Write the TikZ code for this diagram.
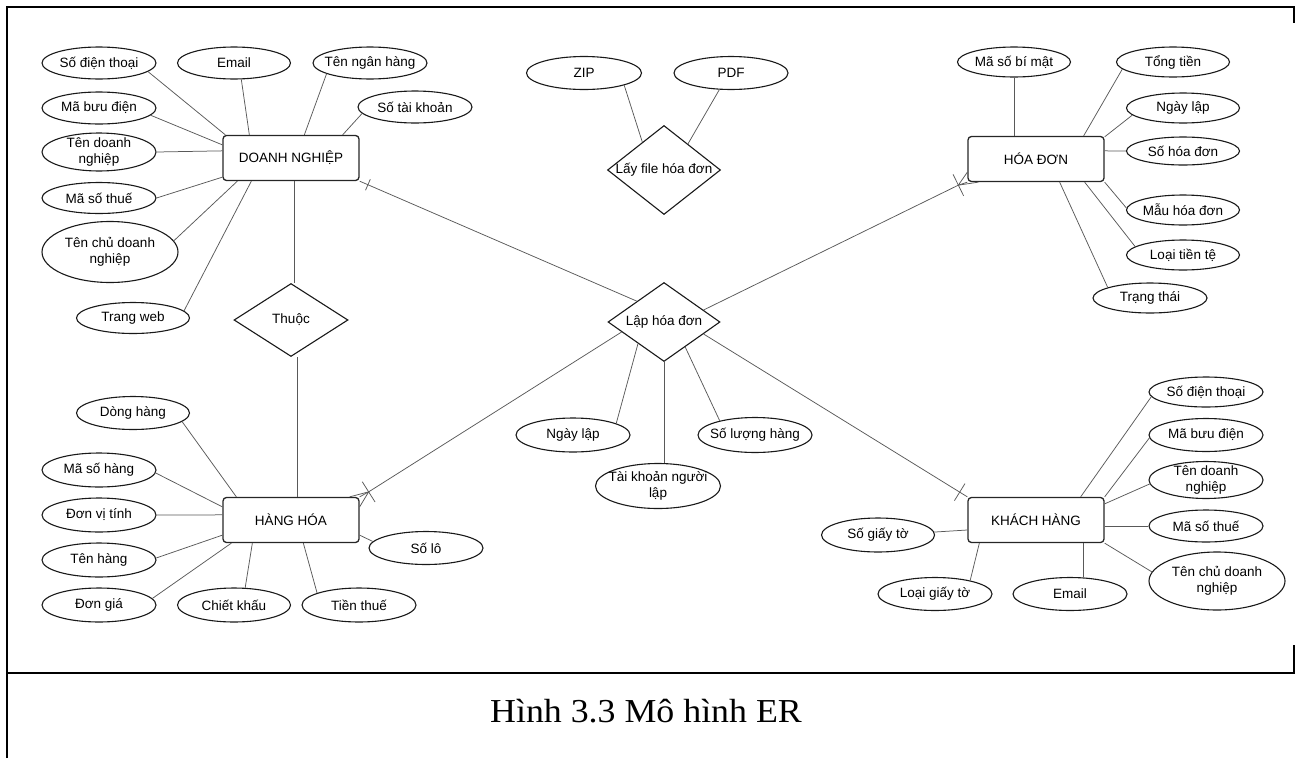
\documentclass[tikz,border=0pt]{standalone}
\usepackage{fontspec}
\usetikzlibrary{shapes.geometric,calc}
\newfontfamily\diagfont{Liberation Sans}
\newfontfamily\capfont{Liberation Serif}
\begin{document}
\begin{tikzpicture}[x=1pt,y=-1pt,
  txt/.style={font=\diagfont\fontsize{13.5}{16.5}\selectfont, align=center, inner sep=0pt},
  attr/.style 2 args={ellipse, draw=black!90, line width=1.1pt, inner sep=0pt,
    minimum width=#1, minimum height=#2},
  ent/.style={rectangle, draw=black!85, line width=1.3pt, rounded corners=3.5pt,
    minimum width=136, minimum height=45, txt},
  rel/.style 2 args={diamond, draw=black!90, line width=1.1pt, inner sep=0pt,
    minimum width=#1, minimum height=#2},
  conn/.style={draw=black!65, line width=0.75pt},
  frame/.style={line width=1.4pt}]
\useasboundingbox (0,0) rectangle (1301,758);

% outer frame and caption row
\draw[frame] (7,758) -- (7,7) -- (1294,7) -- (1294,23);
\draw[frame] (1294,645) -- (1294,673) -- (7,673);
\node[font=\capfont\fontsize{33.5}{40}\selectfont, anchor=base, inner sep=0pt] (cap)
  at (646,722) {\scalebox{1.07}[1]{Hình 3.3 Mô hình ER}};

% ---------- DOANH NGHIỆP ----------
\node[ent] (dn) at (291,158) {DOANH NGHIỆP};
\node[attr={114}{32}, label={[txt]center:Số điện thoại}] (dnSdt) at (99,63) {};
\node[attr={113}{32}, label={[txt]center:Email}] (dnEm) at (234,63) {};
\node[attr={114}{32}, label={[txt]center:Tên ngân hàng}] (dnNh) at (370,63) {};
\node[attr={114}{32}, label={[txt]center:Số tài khoản}] (dnTk) at (415,107) {};
\node[attr={114}{32}, label={[txt]center:Mã bưu điện}] (dnMbd) at (99,108) {};
\node[attr={114}{38}, label={[txt]center:{Tên doanh\\nghiệp}}] (dnTdn) at (99,152) {};
\node[attr={114}{31}, label={[txt]center:Mã số thuế}] (dnMst) at (99,198) {};
\node[attr={136}{61}, label={[txt]center:{Tên chủ doanh\\nghiệp}}] (dnTc) at (110,252) {};
\node[attr={113}{31}, label={[txt]center:Trang web}] (dnWeb) at (133,318) {};

\draw[conn] (dnSdt.-10) -- ($(dn.north west)+(3,0)$);
\draw[conn] (dnEm.-66) -- ($(dn.north west)+(27,0)$);
\draw[conn] (dnNh.194) -- ($(dn.north west)+(82,0)$);
\draw[conn] (dnTk.187) -- ($(dn.north east)+(-17,0)$);
\draw[conn] (dnMbd.-8) -- ($(dn.north west)+(0,10)$);
\draw[conn] (dnTdn.0) -- ($(dn.north west)+(0,16)$);
\draw[conn] (dnMst.0) -- ($(dn.south west)+(0,-4)$);
\draw[conn] (dnTc.10) -- ($(dn.south west)+(15,0)$);
\draw[conn] (dnWeb.8) -- ($(dn.south west)+(29,0)$);

% ---------- Thuộc ----------
\node[rel={114}{73}, label={[txt]center:Thuộc}] (th) at (291,320) {};

% ---------- HÀNG HÓA ----------
\node[ent] (hh) at (291,520) {HÀNG HÓA};
\node[attr={113}{33}, label={[txt]center:Dòng hàng}] (hhDh) at (133,413) {};
\node[attr={114}{34}, label={[txt]center:Mã số hàng}] (hhMsh) at (99,470) {};
\node[attr={114}{34}, label={[txt]center:Đơn vị tính}] (hhDvt) at (99,515) {};
\node[attr={114}{34}, label={[txt]center:Tên hàng}] (hhTh) at (99,560) {};
\node[attr={114}{34}, label={[txt]center:Đơn giá}] (hhDg) at (99,605) {};
\node[attr={113}{34}, label={[txt]center:Chiết khấu}] (hhCk) at (234,605) {};
\node[attr={114}{34}, label={[txt]center:Tiền thuế}] (hhTt) at (359,605) {};
\node[attr={114}{33}, label={[txt]center:Số lô}] (hhSl) at (426,548) {};

\draw[conn] (hhDh.-10) -- ($(hh.north west)+(14,0)$);
\draw[conn] (hhMsh.-3) -- ($(hh.north west)+(0,10)$);
\draw[conn] (hhDvt.0) -- ($(hh.north west)+(0,18)$);
\draw[conn] (hhTh.2) -- ($(hh.south west)+(0,-8)$);
\draw[conn] (hhDg.7) -- ($(hh.south west)+(9,0)$);
\draw[conn] (hhCk.57) -- ($(hh.south west)+(30,0)$);
\draw[conn] (hhTt.164) -- ($(hh.south west)+(81,0)$);
\draw[conn] (hhSl.173) -- ($(hh.south east)+(0,-8)$);

\draw[conn] ($(dn.south)+(3,0)$) -- ($(th.north)+(3,0)$);
\draw[conn] ($(th.south)+(6,0)$) -- ($(hh.north)+(6,0)$);

% ---------- Lấy file hóa đơn ----------
\node[rel={113}{89}, label={[txt]center:Lấy file hóa đơn}] (lf) at (664,170) {};
\node[attr={115}{33}, label={[txt]center:ZIP}] (lfZip) at (584,73) {};
\node[attr={114}{33}, label={[txt]center:PDF}] (lfPdf) at (731,73) {};
\draw[conn] (lfZip.-17) -- ($(lf.west)!0.62!(lf.north)$);
\draw[conn] (lfPdf.-125) -- ($(lf.north)!0.42!(lf.east)$);

% ---------- HÓA ĐƠN ----------
\node[ent] (hd) at (1036,159) {HÓA ĐƠN};
\node[attr={113}{30}, label={[txt]center:Mã số bí mật}] (hdMs) at (1014,62) {};
\node[attr={113}{30}, label={[txt]center:Tổng tiền}] (hdTt) at (1173,62) {};
\node[attr={113}{30}, label={[txt]center:Ngày lập}] (hdNl) at (1183,108) {};
\node[attr={113}{28}, label={[txt]center:Số hóa đơn}] (hdShd) at (1183,151) {};
\node[attr={113}{30}, label={[txt]center:Mẫu hóa đơn}] (hdMau) at (1183,210) {};
\node[attr={113}{30}, label={[txt]center:Loại tiền tệ}] (hdLtt) at (1183,255) {};
\node[attr={114}{30}, label={[txt]center:Trạng thái}] (hdTth) at (1150,298) {};

\draw[conn] (hdMs.south) -- (hdMs.south |- hd.north);
\draw[conn] (hdTt.188) -- ($(hd.north east)+(-21,0)$);
\draw[conn] (hdNl.188) -- ($(hd.north east)+(0,1)$);
\draw[conn] (hdShd.180) -- ($(hd.north east)+(0,15)$);
\draw[conn] (hdMau.178) -- (hd.south east);
\draw[conn] (hdLtt.170) -- ($(hd.south east)+(-20,0)$);
\draw[conn] (hdTth.166) -- ($(hd.south east)+(-45,0)$);

% ---------- KHÁCH HÀNG ----------
\node[ent] (kh) at (1036,520) {KHÁCH HÀNG};
\node[attr={114}{30}, label={[txt]center:Số điện thoại}] (khSdt) at (1206,392) {};
\node[attr={114}{33}, label={[txt]center:Mã bưu điện}] (khMbd) at (1206,435) {};
\node[attr={114}{37}, label={[txt]center:{Tên doanh\\nghiệp}}] (khTdn) at (1206,480) {};
\node[attr={114}{32}, label={[txt]center:Mã số thuế}] (khMst) at (1206,526) {};
\node[attr={136}{58}, label={[txt]center:{Tên chủ doanh\\nghiệp}}] (khTc) at (1217,581) {};
\node[attr={113}{34}, label={[txt]center:Số giấy tờ}] (khSgt) at (878,535) {};
\node[attr={114}{33}, label={[txt]center:Loại giấy tờ}] (khLgt) at (935,594) {};
\node[attr={114}{33}, label={[txt]center:Email}] (khEm) at (1070,594) {};

\draw[conn] (khSdt.185) -- ($(kh.north east)+(-24,0)$);
\draw[conn] (khMbd.183) -- (kh.north east);
\draw[conn] (khTdn.184) -- ($(kh.north east)+(0,7)$);
\draw[conn] (khMst.180) -- ($(kh.east)+(0,6)$);
\draw[conn] (khTc.172) -- (kh.south east);
\draw[conn] (khSgt.3) -- ($(kh.west)+(0,10)$);
\draw[conn] (khLgt.21) -- ($(kh.south west)+(12,0)$);
\draw[conn] (khEm.51) -- (khEm.51 |- kh.south);

% ---------- Lập hóa đơn ----------
\node[rel={112}{79}, label={[txt]center:Lập hóa đơn}] (lh) at (664,322) {};
\node[attr={114}{34}, label={[txt]center:Ngày lập}] (lhNl) at (573,435) {};
\node[attr={125}{45}, label={[txt]center:{Tài khoản người\\lập}}] (lhTk) at (658,486) {};
\node[attr={114}{35}, label={[txt]center:Số lượng hàng}] (lhSl) at (755,435) {};

\draw[conn] (lhNl.15) -- ($(lh.west)!0.54!(lh.south)$);
\draw[conn] (lh.south) -- (lh.south |- lhTk.north);
\draw[conn] (lhSl.158) -- ($(lh.south)!0.375!(lh.east)$);

\coordinate (lhNW) at ($(lh.west)!0.52!(lh.north)$);
\coordinate (lhNE) at ($(lh.north)!0.7!(lh.east)$);
\coordinate (lhSW) at ($(lh.west)!0.25!(lh.south)$);
\coordinate (lhSE) at ($(lh.east)!0.3!(lh.south)$);

% one: DOANH NGHIỆP
\draw[conn] (lhNW) -- (dn.south east);
\coordinate (dnBar) at ($(dn.south east)!9pt!(lhNW)$);
\draw[conn] ($(dnBar)!6pt!90:(lhNW)$) -- ($(dnBar)!6pt!-90:(lhNW)$);

% one: KHÁCH HÀNG
\draw[conn] (lhSE) -- (kh.north west);
\coordinate (khBar) at ($(kh.north west)!9pt!(lhSE)$);
\draw[conn] ($(khBar)!10pt!90:(lhSE)$) -- ($(khBar)!10pt!-90:(lhSE)$);

% one or many: HÓA ĐƠN
\coordinate (hdF) at ($(hd.south west)+(-9,3)$);
\draw[conn] (lhNE) -- (hdF) -- (hd.south west);
\draw[conn] ($(hd.south west)+(0,-10)$) -- (hdF) -- ($(hd.south west)+(11,0)$);
\draw[conn] ($(hdF)!12pt!90:(lhNE)$) -- ($(hdF)!12pt!-90:(lhNE)$);

% one or many: HÀNG HÓA
\coordinate (hhF) at ($(hh.north east)+(9,-5)$);
\draw[conn] (lhSW) -- (hhF) -- (hh.north east);
\draw[conn] ($(hh.north east)+(-10,0)$) -- (hhF) -- ($(hh.north east)+(0,10)$);
\draw[conn] ($(hhF)!12pt!90:(lhSW)$) -- ($(hhF)!12pt!-90:(lhSW)$);
\end{tikzpicture}
\end{document}
